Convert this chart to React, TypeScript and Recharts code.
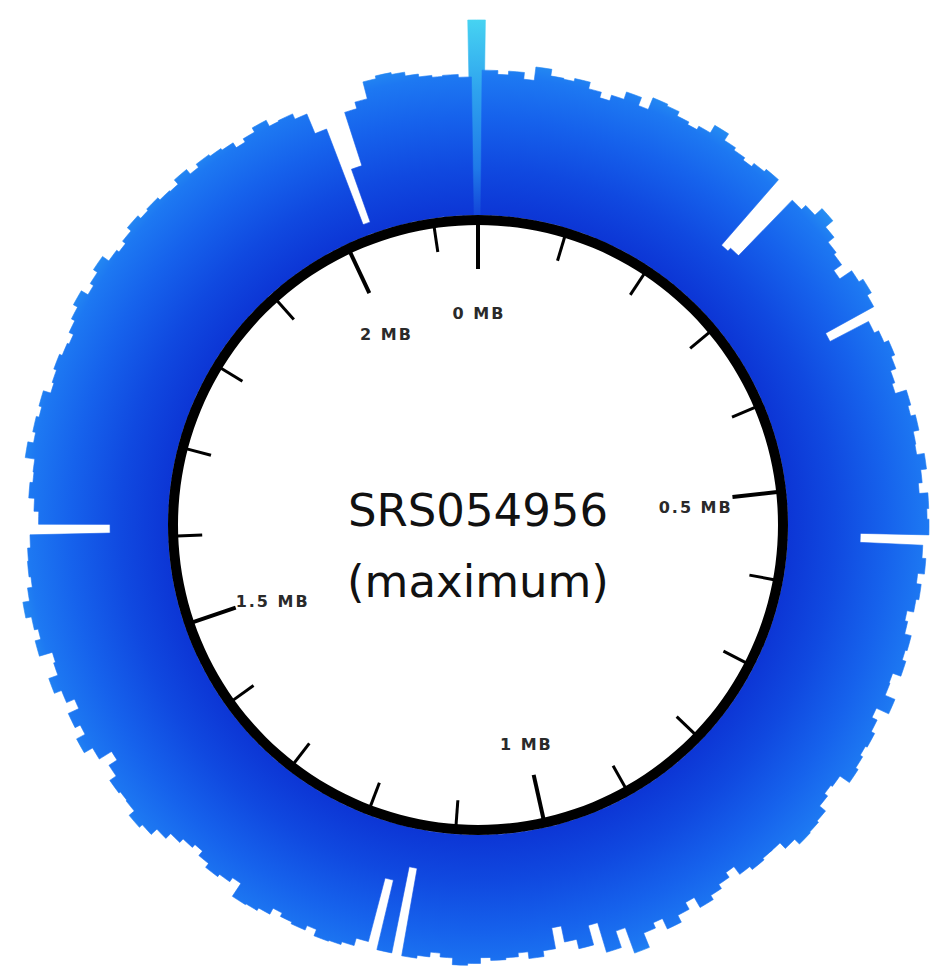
import React from 'react';
import { RadialBarChart, RadialBar, PolarAngleAxis, PolarRadiusAxis, Cell } from 'recharts';

// genome length in MB, one bar per 0.01 MB window, window i centred on i*0.01 MB (0 MB at top, clockwise)
const GENOME_MB = 2.15;
const BIN_MB = 0.01;

// read coverage per window (arbitrary units, bar length beyond the ring)
const coverage = [
  202, 150, 146, 150, 143, 157, 150, 149, 152, 145, 139, 145, 153, 144, 157, 155, 150, 147, 151, 160,
  152, 149, 146, 150, 153, 63, 67, 147, 153, 163, 153, 145, 142, 132, 147, 152, 147, 90, 135, 140,
  145, 141, 135, 132, 144, 141, 146, 140, 139, 147, 141, 137, 146, 144, 146, 75, 140, 144, 137, 142,
  139, 132, 135, 142, 140, 144, 135, 136, 147, 133, 139, 143, 141, 144, 147, 135, 133, 137, 145, 147,
  148, 141, 133, 133, 135, 131, 121, 127, 132, 137, 125, 133, 141, 129, 135, 151, 123, 141, 109, 130,
  120, 103, 125, 131, 124, 128, 130, 127, 133, 135, 128, 124, 129, 132, 40, 131, 57, 125, 133, 136,
  137, 130, 135, 133, 129, 136, 139, 140, 124, 129, 132, 127, 121, 125, 130, 137, 145, 149, 142, 141,
  143, 135, 125, 140, 150, 140, 146, 134, 143, 151, 141, 139, 153, 147, 151, 157, 150, 145, 147, 146,
  143, 60, 134, 139, 145, 142, 143, 153, 147, 150, 147, 150, 142, 144, 147, 144, 142, 147, 151, 156,
  148, 152, 157, 149, 146, 150, 155, 151, 153, 150, 149, 155, 149, 153, 151, 149, 143, 147, 152, 145,
  146, 140, 118, 12, 70, 128, 135, 153, 156, 154, 150, 147, 145, 146, 143,
];

const positions = coverage.map((_, i) => (i * BIN_MB).toFixed(2));

const tickMb = [0, 0.1, 0.2, 0.3, 0.4, 0.5, 0.6, 0.7, 0.8, 0.9, 1, 1.1, 1.2, 1.3, 1.4, 1.5, 1.6, 1.7, 1.8, 1.9, 2, 2.1];
const labelMb = [0, 0.5, 1, 1.5, 2];
const labelText = ['0 MB', '0.5 MB', '1 MB', '1.5 MB', '2 MB'];

const sampleName = 'SRS054956';
const subtitle = '(maximum)';

const rows = positions.map((pos, i) => ({ pos, cov: coverage[i] }));
const ringRows = [{ name: 'genome', length: GENOME_MB }];

const W = 930;
const H = 976;
const CX = 478;
const CY = 525;
const RING_IN = 300;
const RING_OUT = 310;
const BAR_OUT = 508;
const HALF_BIN_DEG = (BIN_MB / GENOME_MB) * 180;

const RingTick = (props: any) => {
  const { payload } = props;
  const mb = Number(payload.value);
  const rad = (-payload.coordinate * Math.PI) / 180;
  const cos = Math.cos(rad);
  const sin = Math.sin(rad);
  const idx = labelMb.findIndex((m) => Math.abs(m - mb) < 1e-6);
  const major = idx >= 0;
  const r0 = RING_IN + 1;
  const r1 = r0 - (major ? 45 : 25);
  return (
    <g>
      <line
        x1={CX + r0 * cos}
        y1={CY + r0 * sin}
        x2={CX + r1 * cos}
        y2={CY + r1 * sin}
        stroke="#000"
        strokeWidth={major ? 4 : 3}
      />
      {major && (
        <text
          x={CX + 218 * cos + 1}
          y={CY + 218 * sin + 12}
          textAnchor="middle"
          fontFamily="'DejaVu Sans', sans-serif"
          fontWeight="bold"
          fontSize={16}
          letterSpacing={2}
          fill="#2a2a2a"
        >
          {labelText[idx]}
        </text>
      )}
    </g>
  );
};

export default function App() {
  const layer: React.CSSProperties = { position: 'absolute', left: 0, top: 0 };
  const start = 90 - HALF_BIN_DEG;
  return (
    <div style={{ position: 'absolute', left: 0, top: 0, width: W, height: H, background: '#fff' }}>
      <div style={layer}>
        <RadialBarChart
          width={W}
          height={H}
          cx={CX}
          cy={CY}
          innerRadius={RING_OUT}
          outerRadius={BAR_OUT}
          startAngle={start}
          endAngle={start - 360}
          data={rows}
          layout="centric"
          barCategoryGap={0}
          barGap={0}
          margin={{ top: 0, right: 0, bottom: 0, left: 0 }}
        >
          <defs>
            <radialGradient id="covGrad" gradientUnits="userSpaceOnUse" cx={CX} cy={CY} r={510}>
              <stop offset="0.6" stopColor="#0c34d4" />
              <stop offset="0.7" stopColor="#1049e0" />
              <stop offset="0.8" stopColor="#1662ec" />
              <stop offset="0.88" stopColor="#1d78f2" />
              <stop offset="0.92" stopColor="#2690f2" />
              <stop offset="1" stopColor="#40c8f2" />
            </radialGradient>
            <radialGradient id="peakGrad" gradientUnits="userSpaceOnUse" cx={CX} cy={CY} r={510}>
              <stop offset="0.6" stopColor="#1240d8" />
              <stop offset="0.7" stopColor="#1f7ae8" />
              <stop offset="0.85" stopColor="#2ea2ee" />
              <stop offset="1" stopColor="#48d6f2" />
            </radialGradient>
          </defs>
          <PolarAngleAxis type="category" dataKey="pos" tick={false} tickLine={false} axisLine={false} />
          <PolarRadiusAxis type="number" domain={[0, 205]} tick={false} axisLine={false} />
          <RadialBar dataKey="cov" isAnimationActive={false}>
            {rows.map((r, i) => {
              const fill = r.cov > 180 ? 'url(#peakGrad)' : 'url(#covGrad)';
              return <Cell key={`c-${i}`} fill={fill} stroke={fill} strokeWidth={0.6} />;
            })}
          </RadialBar>
        </RadialBarChart>
      </div>
      <div style={{ ...layer, pointerEvents: 'none' }}>
        <RadialBarChart
          width={W}
          height={H}
          cx={CX}
          cy={CY}
          innerRadius={RING_IN}
          outerRadius={RING_OUT}
          startAngle={90}
          endAngle={-270}
          data={ringRows}
          barCategoryGap={0}
          margin={{ top: 0, right: 0, bottom: 0, left: 0 }}
        >
          <PolarAngleAxis
            type="number"
            domain={[0, GENOME_MB]}
            ticks={tickMb}
            tick={RingTick}
            tickLine={false}
            axisLine={false}
          />
          <PolarRadiusAxis type="category" dataKey="name" tick={false} axisLine={false} />
          <RadialBar dataKey="length" fill="#000" isAnimationActive={false} />
        </RadialBarChart>
      </div>
      <svg width={W} height={H} style={{ ...layer, pointerEvents: 'none' }}>
        <text x={CX} y={526} textAnchor="middle" fontFamily="'DejaVu Sans', sans-serif" fontSize={45} fill="#111">
          {sampleName}
        </text>
        <text x={CX} y={597} textAnchor="middle" fontFamily="'DejaVu Sans', sans-serif" fontSize={45} fill="#111">
          {subtitle}
        </text>
      </svg>
    </div>
  );
}
